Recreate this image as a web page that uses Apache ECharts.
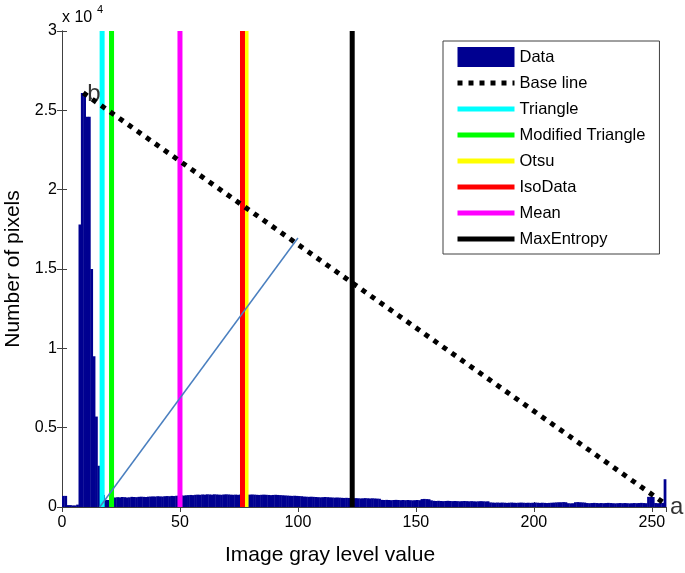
<!DOCTYPE html>
<html><head><meta charset="utf-8">
<script src="https://cdn.jsdelivr.net/npm/echarts@6/dist/echarts.min.js"></script>
<style>html,body{margin:0;padding:0;background:#fff}#c{width:685px;height:573px}</style>
</head><body><div id="c"></div>
<script>
// Histogram counts for gray levels 0..255 (bin k spans [k, k+1))
const counts = [
  700, 700, 120, 120, 100, 100, 150, 17800, 26100, 26000, 24600, 24600, 15000, 9500, 5700, 2600, 760, 760, 450, 440, 430, 450,
  600, 620, 610, 630, 620, 600, 610, 640, 630, 620, 640, 650, 640, 630, 650, 660, 670, 660, 680, 670, 660, 680, 690, 680, 700, 690,
  710, 720, 730, 720, 740, 750, 760, 750, 770, 780, 770, 790, 780, 800, 790, 780, 800, 790, 780, 770, 790, 800, 790, 780, 770, 780, 770,
  780, 790, 780, 770, 780, 790, 780, 770, 760, 770, 780, 770, 760, 750, 760, 770, 760, 750, 740, 730, 720, 710, 700, 710, 700, 690, 680,
  660, 650, 640, 650, 640, 630, 620, 610, 620, 630, 620, 610, 600, 590, 600, 590, 580, 570, 580, 570,
  560, 550, 560, 550, 540, 550, 560, 550, 540, 550, 540, 530, 520,
  450, 440, 450, 440, 430, 440, 450, 440, 430, 440, 430, 440, 430, 420, 430, 440, 430,
  500, 510, 500, 490, 420,
  390, 380, 390, 380, 370, 380, 390, 380, 370, 380, 370, 360, 370, 380, 370, 360, 370, 360, 350, 360, 370, 360, 350, 360,
  290, 280, 270, 280, 270, 280, 270, 260, 270, 280, 270, 260, 270, 280, 270, 260, 270, 260, 270, 280, 270, 260, 270, 260, 250, 260, 270, 280, 290, 300,
  300, 310, 300, 240, 230, 240, 300, 310, 300, 290, 280,
  250, 240, 250, 260, 250, 240, 250, 240, 250, 260, 250, 240, 230, 240, 250, 240, 250, 240, 230, 240, 250, 240, 250, 260, 250, 240,
  640, 650, 630,
  250, 240, 250, 260,
  1750
];
const thresholdNames = ['Triangle', 'Modified Triangle', 'Otsu', 'IsoData', 'Mean', 'MaxEntropy'];
const thresholdValues = [17, 21, 78, 76.5, 50, 123];
const baseLine = [[9, 26100], [255, 270]];
const distanceLine = [[16, 0], [100, 16950]];
const pointLabels = [[13.5, 26000, 'b'], [260.5, 0, 'a']];
const yMax = 30000;

const thresholdColors = ['#00FFFF', '#00FF00', '#FFFF00', '#FF0000', '#FF00FF', '#000000'];
const FONT = 'Liberation Sans, Arial, Helvetica, sans-serif';
const axisColor = '#404040';

const chart = echarts.init(document.getElementById('c'), null, {renderer: 'canvas'});

const series = [];
series.push({
  name: 'Data',
  type: 'custom',
  itemStyle: {color: '#000090'},
  encode: {x: 0, y: 1},
  data: counts.map((c, i) => [i, c]),
  renderItem: function (params, api) {
    const x = api.value(0), y = api.value(1);
    const p0 = api.coord([x, 0]);
    const p1 = api.coord([x + 1, y]);
    return {
      type: 'rect',
      shape: {x: p0[0], y: p1[1], width: p1[0] - p0[0] + 0.4, height: p0[1] - p1[1]},
      style: api.style({fill: '#000090', stroke: null})
    };
  },
  z: 1
});
series.push({
  name: 'Base line',
  type: 'line',
  data: baseLine,
  symbol: 'none',
  lineStyle: {color: '#000', width: 5, type: [5, 6], cap: 'butt'},
  itemStyle: {color: '#000'},
  z: 3
});
thresholdNames.forEach((n, i) => {
  series.push({
    name: n,
    type: 'line',
    data: [[thresholdValues[i], 0], [thresholdValues[i], yMax]],
    symbol: 'none',
    lineStyle: {color: thresholdColors[i], width: 5, cap: 'butt'},
    itemStyle: {color: thresholdColors[i]},
    z: 2
  });
});
series.push({
  name: 'distance',
  type: 'line',
  data: distanceLine,
  symbol: 'none',
  lineStyle: {color: '#4a7fbf', width: 1.5},
  z: 4
});
series.push({
  name: 'points',
  type: 'scatter',
  data: pointLabels,
  symbolSize: 1,
  itemStyle: {color: 'rgba(0,0,0,0)'},
  clip: false,
  label: {
    show: true, position: 'inside', formatter: p => p.value[2],
    fontSize: 24, color: '#000', fontFamily: FONT
  },
  z: 5
});

const option = {
  animation: false,
  backgroundColor: '#fff',
  textStyle: {fontFamily: FONT},
  grid: {left: 62, right: 19, top: 31, bottom: 66, containLabel: false, outerBoundsMode: 'none'},
  legend: {
    orient: 'vertical',
    left: 443, top: 41,
    padding: [6, 14, 5, 12],
    itemWidth: 57, itemHeight: 20, itemGap: 6,
    borderColor: axisColor, borderWidth: 1, backgroundColor: '#fff',
    selectedMode: false,
    itemStyle: {opacity: 0},
    lineStyle: {width: 5},
    textStyle: {fontSize: 16.5, color: '#000', fontFamily: FONT, lineHeight: 20},
    data: [{name: 'Data', icon: 'rect', itemStyle: {opacity: 1}}, 'Base line'].concat(thresholdNames)
  },
  xAxis: [{
    type: 'value', min: 0, max: 256, interval: 50,
    name: 'Image gray level value', nameLocation: 'middle', nameGap: 38,
    nameTextStyle: {fontSize: 21, color: '#000', fontFamily: FONT, padding: [0, 68, 0, 0]},
    axisLine: {show: true, lineStyle: {color: axisColor, width: 1}},
    axisTick: {show: true, inside: true, length: 5, lineStyle: {color: axisColor}},
    axisLabel: {fontSize: 16, color: '#000', margin: 8, fontFamily: FONT, showMaxLabel: false},
    splitLine: {show: false}
  }, {
    type: 'value', min: 0, max: 256, interval: 50, position: 'top',
    axisLine: {show: true, lineStyle: {color: axisColor, width: 1}},
    axisTick: {show: true, inside: true, length: 5, lineStyle: {color: axisColor}},
    axisLabel: {show: false}, splitLine: {show: false}
  }],
  yAxis: [{
    type: 'value', min: 0, max: yMax, interval: 5000,
    name: 'Number of pixels', nameLocation: 'middle', nameGap: 36,
    nameTextStyle: {fontSize: 21, color: '#000', fontFamily: FONT},
    axisLine: {show: true, lineStyle: {color: axisColor, width: 1}},
    axisTick: {show: true, inside: true, length: 5, lineStyle: {color: axisColor}},
    axisLabel: {fontSize: 16, color: '#000', margin: 5, fontFamily: FONT, formatter: v => String(v / 10000)},
    splitLine: {show: false}
  }, {
    type: 'value', min: 0, max: yMax, interval: 5000, position: 'right',
    axisLine: {show: true, lineStyle: {color: axisColor, width: 1}},
    axisTick: {show: true, inside: true, length: 5, lineStyle: {color: axisColor}},
    axisLabel: {show: false}, splitLine: {show: false}
  }],
  graphic: [
    {type: 'text', left: 62, top: 10, style: {text: 'x 10', fontSize: 16, fill: '#000', fontFamily: FONT}},
    {type: 'text', left: 97, top: 4, style: {text: '4', fontSize: 11, fill: '#000', fontFamily: FONT}}
  ],
  series: series
};
chart.setOption(option);
</script>
</body></html>
